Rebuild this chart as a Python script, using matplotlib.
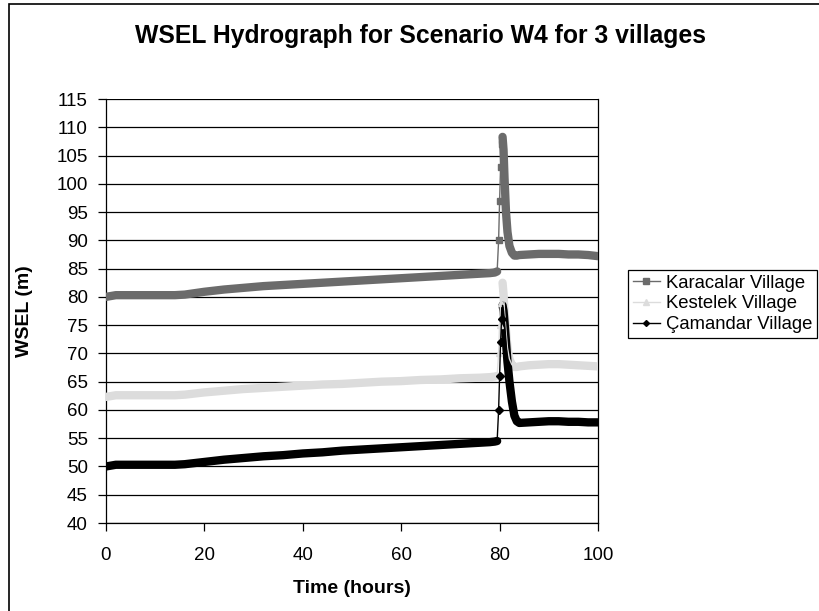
import numpy as np
import matplotlib
matplotlib.use("Agg")
import matplotlib.pyplot as plt
from matplotlib.lines import Line2D
from matplotlib.patches import Rectangle

plt.rcParams['font.family'] = ['Liberation Sans', 'DejaVu Sans']

# time axis (hours)
time_h = [0, 2, 4, 6, 8, 10, 12, 14, 16, 20, 24, 28, 32, 36, 40, 44, 48, 52, 56,
          60, 64, 68, 72, 76, 78, 79, 79.5, 79.8, 80.0, 80.2, 80.4, 80.6, 80.8,
          81.0, 81.3, 81.6, 82.0, 82.5, 83.0, 83.5, 84.0, 86, 88, 90, 92, 94,
          96, 98, 100]

karacalar = [80.0, 80.3, 80.3, 80.3, 80.3, 80.3, 80.3, 80.3, 80.4, 80.9, 81.3,
             81.6, 81.9, 82.1, 82.3, 82.5, 82.7, 82.9, 83.1, 83.3, 83.5, 83.7,
             83.9, 84.1, 84.2, 84.3, 84.5, 90.0, 97.0, 103.0, 107.0, 108.3,
             106.0, 101.0, 95.0, 91.5, 89.0, 87.8, 87.3, 87.3, 87.4, 87.5,
             87.6, 87.6, 87.6, 87.5, 87.5, 87.4, 87.2]

kestelek = [62.3, 62.6, 62.6, 62.6, 62.6, 62.6, 62.6, 62.6, 62.7, 63.1, 63.4,
            63.7, 63.9, 64.1, 64.3, 64.5, 64.6, 64.8, 65.0, 65.1, 65.3, 65.4,
            65.6, 65.7, 65.8, 65.9, 66.0, 70.0, 75.0, 79.0, 81.5, 82.5,
            80.5, 77.5, 74.0, 71.0, 69.0, 68.0, 67.6, 67.6, 67.7, 67.9, 68.0,
            68.1, 68.1, 68.0, 67.9, 67.8, 67.7]

camandar = [50.0, 50.3, 50.3, 50.3, 50.3, 50.3, 50.3, 50.3, 50.4, 50.8, 51.2,
            51.5, 51.8, 52.0, 52.3, 52.5, 52.8, 53.0, 53.2, 53.4, 53.6, 53.8,
            54.0, 54.2, 54.3, 54.4, 54.5, 60.0, 66.0, 72.0, 76.0, 78.5,
            77.5, 75.5, 72.0, 68.5, 65.0, 61.5, 59.0, 58.0, 57.7, 57.8, 57.9,
            58.0, 58.0, 57.9, 57.9, 57.8, 57.8]

series_names = ['Karacalar Village', 'Kestelek Village', '\u00c7amandar Village']

W, H = 820, 611
fig = plt.figure(figsize=(W / 100, H / 100), dpi=100)
ax = fig.add_axes([106 / W, 1 - 523 / H, (598 - 106) / W, (523 - 99) / H])

t = np.array(time_h)
rise = (t > 79.5) & (t < 80.6)
styles = [
    (karacalar, '#6b6b6b', 's', 5),
    (kestelek, '#dcdcdc', '^', 5),
    (camandar, '#000000', 'D', 4),
]
handles = []
for (vals, col, mk, ms), name in zip(styles, series_names):
    v = np.array(vals)
    # the dense marker band of the original, drawn as a thick stroke
    before = t <= 79.5
    after = t >= 80.6
    ax.plot(t[before], v[before], color=col, lw=6, solid_capstyle='round', zorder=3)
    ax.plot(t[after], v[after], color=col, lw=6, solid_capstyle='round', zorder=3)
    ax.plot(t, v, color=col, lw=1, zorder=4)
    ax.plot(t[rise], v[rise], ls='none', marker=mk, ms=ms, mec=col, mfc=col, zorder=4)
    handles.append(Line2D([], [], color=col, lw=1, marker=mk, ms=ms - 1, mec=col, mfc=col))

ax.set_xlim(0, 100)
ax.set_ylim(40, 115)
ax.set_xticks(np.arange(0, 101, 20))
ax.set_yticks(np.arange(40, 116, 5))
ax.tick_params(labelsize=13.5, direction='out', length=6, width=0.9, colors='black')
ax.tick_params(axis='x', pad=11)
ax.tick_params(axis='y', pad=7)
ax.grid(axis='y', color='black', lw=0.9)
ax.set_axisbelow(True)
for s in ['top', 'right', 'left', 'bottom']:
    ax.spines[s].set_color('black')
    ax.spines[s].set_linewidth(0.9)
ax.spines['top'].set_visible(False)

ax.set_xlabel('Time (hours)', fontsize=14, fontweight='bold', labelpad=12)
ax.set_ylabel('WSEL (m)', fontsize=14, fontweight='bold')
ax.yaxis.set_label_coords((33 - 106) / (598 - 106), 0.5)
fig.text(421 / W, 1 - 36 / H, 'WSEL Hydrograph for Scenario W4 for 3 villages',
         ha='center', va='center', fontsize=17.8, fontweight='bold')

leg = fig.legend(handles, series_names, loc='upper left',
                 bbox_to_anchor=(628 / W, 1 - 270 / H), fontsize=13.3,
                 frameon=True, fancybox=False, edgecolor='black', framealpha=1,
                 borderpad=0.25, labelspacing=0.2, handlelength=1.5, handletextpad=0.3,
                 borderaxespad=0)
leg.get_frame().set_linewidth(0.9)

# outer chart frame, cut off at the right and bottom as in the original
fig.patches.append(Rectangle((9 / W, -0.05), 1.1, 1 - 4 / H + 0.05, transform=fig.transFigure,
                             fill=False, edgecolor='black', lw=1.2))

fig.savefig('out.png', dpi=100)
